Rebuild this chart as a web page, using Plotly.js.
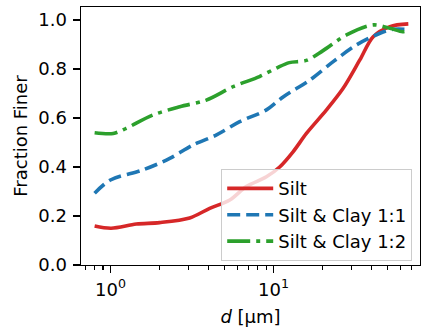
<!DOCTYPE html>
<html>
<head>
<meta charset="utf-8">
<script src="https://cdn.plot.ly/plotly-3.0.1.min.js"></script>
<style>html,body{margin:0;padding:0;background:#fff;}#chart{width:422px;height:336px;}</style>
</head>
<body>
<div id="chart"></div>
<script>
const seriesNames = ["Silt", "Silt & Clay 1:1", "Silt & Clay 1:2"];
const siltD = [0.80, 1.01, 1.44, 2.0, 3.06, 4.06, 5.39, 6.8, 9.04, 10.9, 13.2, 15.9, 21.1, 26.7, 33.8, 40.8, 51.7, 67];
const siltF = [0.159, 0.150, 0.167, 0.173, 0.192, 0.231, 0.265, 0.32, 0.36, 0.40, 0.463, 0.537, 0.633, 0.721, 0.837, 0.932, 0.973, 0.984];
const clay11D = [0.80, 1.0, 1.58, 2.31, 3.21, 4.47, 6.2, 9.04, 11.5, 16.7, 23.2, 32.2, 44.9, 54.2, 65.5];
const clay11F = [0.293, 0.347, 0.388, 0.435, 0.49, 0.531, 0.585, 0.633, 0.687, 0.755, 0.83, 0.898, 0.946, 0.962, 0.962];
const clay12D = [0.80, 1.04, 1.25, 1.82, 2.66, 3.87, 5.65, 8.2, 10.5, 12.5, 15.9, 20.1, 28, 40.8, 51.7, 61.8, 65.5];
const clay12F = [0.540, 0.537, 0.558, 0.612, 0.646, 0.673, 0.728, 0.769, 0.805, 0.826, 0.835, 0.875, 0.939, 0.980, 0.966, 0.952, 0.955];
const xTickVals = [1, 10];
const xTickText = ["10<sup>0</sup>", "10<sup>1</sup>"];
const xMinorVals = [0.7, 0.8, 0.9, 2, 3, 4, 5, 6, 7, 8, 9, 20, 30, 40, 50, 60, 70, 80];
const yTickVals = [0, 0.2, 0.4, 0.6, 0.8, 1.0];

const colors = ["#d62728", "#1f77b4", "#2ca02c"];
const dashes = ["solid", "13px,6px", "23px,6px,4px,6px"];
const xs = [siltD, clay11D, clay12D];
const ys = [siltF, clay11F, clay12F];

const traces = seriesNames.map((n, i) => ({
  x: xs[i], y: ys[i], name: n, type: "scatter", mode: "lines",
  line: {color: colors[i], width: 3.6, dash: dashes[i], shape: "spline", smoothing: 0.9}
}));

const font = {family: "DejaVu Sans", size: 18, color: "#000"};
const layout = {
  width: 422, height: 336,
  margin: {l: 81, r: 2, t: 7, b: 71},
  paper_bgcolor: "#fff", plot_bgcolor: "#fff",
  font: font,
  showlegend: true,
  xaxis: {
    type: "log", range: [Math.log10(0.66), Math.log10(79)],
    tickmode: "array", tickvals: xTickVals, ticktext: xTickText,
    ticks: "outside", ticklen: 7, tickwidth: 1.4, tickcolor: "#000",
    ticklabelstandoff: 1,
    minor: {tickmode: "array", tickvals: xMinorVals, ticks: "outside", ticklen: 4, tickwidth: 1.1, tickcolor: "#000", showgrid: false},
    showline: true, linecolor: "#000", linewidth: 1.4, mirror: true,
    showgrid: false, zeroline: false,
    tickfont: font,
    title: {text: "<i>d</i> [μm]", font: font, standoff: 11}
  },
  yaxis: {
    range: [0, 1.053],
    tickmode: "array", tickvals: yTickVals, tickformat: ".1f",
    ticks: "outside", ticklen: 7, tickwidth: 1.4, tickcolor: "#000",
    ticklabelstandoff: 2,
    showline: true, linecolor: "#000", linewidth: 1.4, mirror: true,
    showgrid: false, zeroline: false,
    tickfont: font,
    title: {text: "Fraction Finer", font: font, standoff: 6}
  },
  legend: {
    x: 0.977, y: 0.015, xanchor: "right", yanchor: "bottom",
    bgcolor: "rgba(255,255,255,0.8)", bordercolor: "#cccccc", borderwidth: 1,
    font: font, tracegroupgap: 0, itemwidth: 46
  }
};
Plotly.newPlot("chart", traces, layout, {displayModeBar: false, staticPlot: true});
</script>
</body>
</html>
